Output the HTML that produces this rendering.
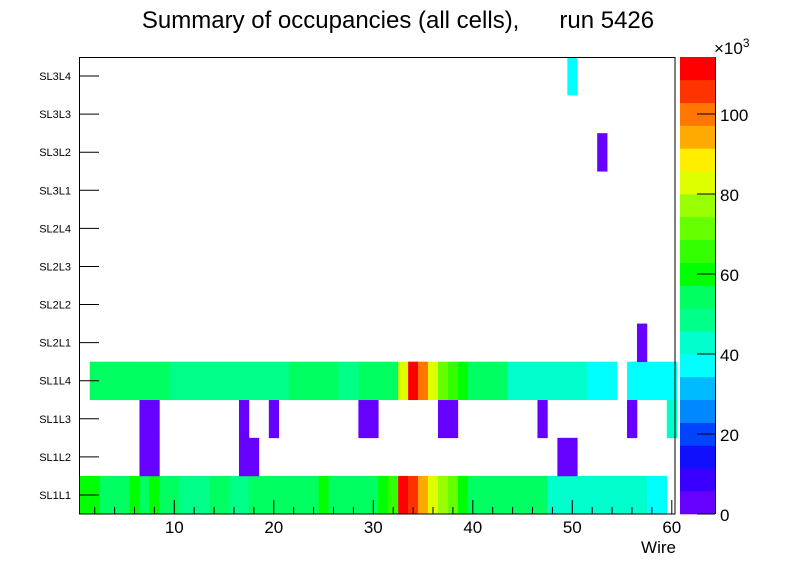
<!DOCTYPE html>
<html><head><meta charset="utf-8"><style>
body{margin:0;background:#fff;}
svg{display:block;font-family:"Liberation Sans",sans-serif;}
</style></head><body>
<svg id="c" width="796" height="572">
<text x="398" y="28" text-anchor="middle" font-size="24" style="white-space:pre" xml:space="preserve">Summary of occupancies (all cells),      run 5426</text>
<g id="cells"></g><g id="axes"></g>
</svg>
<script>
const layers=["SL1L1","SL1L2","SL1L3","SL1L4","SL2L1","SL2L2","SL2L3","SL2L4","SL3L1","SL3L2","SL3L3","SL3L4"];
const xTicks=[10,20,30,40,50,60];
const zTicks=[0,20,40,60,80,100];
// values in thousands
const rowSL1L1=[60,60,54,54,54,60,54,60,54,54,48,48,48,54,54,48,48,54,54,54,54,54,54,54,60,54,54,54,54,54,60,65,111,105,94,82,77,71,60,54,54,54,54,54,54,54,54,42,42,42,42,42,42,42,42,42,42,37,37,0];
const rowSL1L2=[[7,2],[8,2],[17,2],[18,2],[49,2],[50,2]];
const rowSL1L3=[[7,2],[8,2],[17,2],[20,2],[29,2],[30,2],[37,2],[38,2],[47,2],[56,2],[60,42]];
const rowSL1L4=[0,54,54,54,54,54,54,54,54,48,48,48,48,48,48,48,48,48,48,48,48,54,54,54,54,54,48,48,54,54,54,54,82,111,100,82,71,65,60,54,54,54,54,42,42,42,42,42,42,42,42,37,37,37,0,37,37,37,37,37];
const sparseUpper=[[4,57,2],[9,53,2],[11,50,37]];
const palette=["#6600ff","#3a00ff","#1010ff","#0044ff","#0088ff","#00bbff","#00ffff","#00ffcc","#00ff88","#00ff60","#00ff00","#33ff00","#66ff00","#99ff00","#ddff00","#ffee00","#ffaa00","#ff7700","#ff3300","#ff0000"];
const zMax=114.25;
const X0=79,X1=675,Y0=57,Y1=514,NS="http://www.w3.org/2000/svg";
const xs=w=>74.8+9.95*w;
const rh=(Y1-Y0)/layers.length;
const ys=i=>Y1-(i+1)*rh;
const zy=v=>Y1-(v/zMax)*(Y1-Y0);
const col=v=>palette[Math.min(19,Math.floor(v/zMax*20))];
function mk(t,a,p){const e=document.createElementNS(NS,t);for(const k in a)e.setAttribute(k,a[k]);p.appendChild(e);return e;}
const cg=document.getElementById('cells'),ag=document.getElementById('axes');
const cells=[];
rowSL1L1.forEach((v,i)=>{if(v>0)cells.push([0,i+1,v]);});
rowSL1L2.forEach(d=>cells.push([1,d[0],d[1]]));
rowSL1L3.forEach(d=>cells.push([2,d[0],d[1]]));
rowSL1L4.forEach((v,i)=>{if(v>0)cells.push([3,i+1,v]);});
sparseUpper.forEach(d=>cells.push(d));
cells.forEach(d=>{const r=mk('rect',{x:xs(d[1]-0.5),y:ys(d[0]),width:9.95+0.3,height:rh+0.3,fill:col(d[2])},cg);

});
const fr=mk('rect',{x:79.5,y:57.5,width:595.5,height:456.5,fill:'none',stroke:'#000','stroke-width':1},ag);

layers.forEach((l,i)=>{const cy=ys(i)+rh/2;
mk('line',{x1:79.5,x2:99,y1:cy,y2:cy,stroke:'#000'},ag);
const t=mk('text',{x:71,y:cy+4,'text-anchor':'end','font-size':11},ag);t.textContent=l;
});
for(let w=2;w<=60;w+=2){const maj=w%10==0;mk('line',{x1:xs(w),x2:xs(w),y1:513.5,y2:maj?500:507,stroke:'#000'},ag);}
xTicks.forEach(v=>{const t=mk('text',{x:xs(v),y:533,'text-anchor':'middle','font-size':17},ag);t.textContent=v;
});
const xt=mk('text',{x:676,y:553,'text-anchor':'end','font-size':17},ag);xt.textContent='Wire';

const bh=(Y1-Y0)/20;
palette.forEach((c,i)=>{const r=mk('rect',{x:680,y:Y1-(i+1)*bh,width:35,height:bh+0.3,fill:c},ag);
});
mk('line',{x1:715.5,x2:715.5,y1:57,y2:514,stroke:'#000'},ag);
zTicks.forEach(v=>{const y=zy(v);mk('line',{x1:697,x2:715,y1:y,y2:y,stroke:'#000'},ag);
const t=mk('text',{x:720,y:y+7,'font-size':17},ag);t.textContent=v;
});
const ex=mk('text',{x:714,y:54,'font-size':17},ag);ex.innerHTML='×10<tspan dy="-7" font-size="12">3</tspan>';

</script>
</body></html>
